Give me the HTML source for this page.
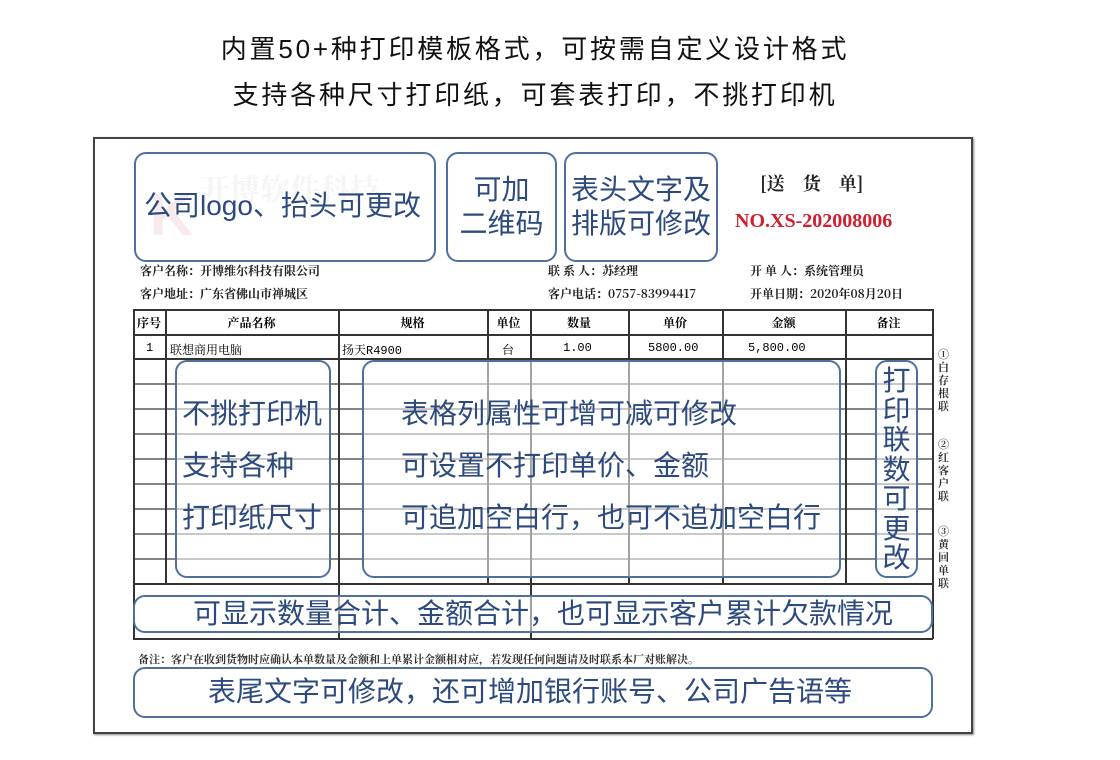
<!DOCTYPE html>
<html><head><meta charset="utf-8"><style>
body{margin:0;width:1120px;height:760px;background:#fff;position:relative;overflow:hidden;font-family:"Liberation Sans","Noto Sans CJK SC",sans-serif}
.a{position:absolute}
.t{left:0;width:1070px;text-align:center;font-size:26px;letter-spacing:2.8px;color:#111}
.paper{left:93px;top:137px;width:880px;height:597px;border:2px solid #444;box-sizing:border-box;box-shadow:1px 1px 2px #888}
.box{position:absolute;border:2px solid #4f6f9f;border-radius:12px;box-sizing:border-box;color:#2c4a7e;font-size:28px;background:rgba(255,255,255,0.55);white-space:nowrap}
.sm{font-family:"Noto Serif CJK SC",serif;font-size:12px;color:#222;font-weight:bold}
.hl{position:absolute;height:1.5px;background:#333}
.vl{position:absolute;width:1.5px;background:#333}
.th{position:absolute;top:314px;font-family:"Noto Serif CJK SC",serif;font-size:12px;font-weight:bold;text-align:center}
.td{position:absolute;top:341px;font-family:"Liberation Mono","Noto Serif CJK SC",monospace;font-size:12px}
</style></head><body>
<div class="a t" style="top:29px">内置50+种打印模板格式，可按需自定义设计格式</div>
<div class="a t" style="top:75px">支持各种尺寸打印纸，可套表打印，不挑打印机</div>
<div class="a paper"></div>
<div class="a" style="left:200px;top:165px;font-size:30px;color:#e8e8e8;font-weight:bold;font-family:'Noto Serif CJK SC',serif">开博软件科技</div>
<div class="a" style="left:150px;top:180px;font-size:60px;color:#f0d0d4;font-weight:bold">K</div>
<div class="a" style="left:760px;top:170px;font-family:'Noto Serif CJK SC',serif;font-size:18px;font-weight:bold;color:#222">[送　货　单]</div>
<div class="a" style="left:735px;top:210px;font-family:'Liberation Serif',serif;font-size:20px;font-weight:bold;color:#d02030">NO.XS-202008006</div>
<div class="a sm" style="left:140px;top:262px">客户名称：开博维尔科技有限公司</div>
<div class="a sm" style="left:140px;top:285px">客户地址：广东省佛山市禅城区</div>
<div class="a sm" style="left:548px;top:262px">联 系 人：苏经理</div>
<div class="a sm" style="left:548px;top:285px">客户电话：0757-83994417</div>
<div class="a sm" style="left:750px;top:262px">开 单 人：系统管理员</div>
<div class="a sm" style="left:750px;top:285px">开单日期：2020年08月20日</div>
<!-- table -->
<div class="hl" style="left:133px;top:309px;width:800px"></div>
<div class="hl" style="left:133px;top:334px;width:800px"></div>
<div class="hl" style="left:133px;top:358px;width:800px"></div>
<div class="hl" style="left:133px;top:383px;width:800px;opacity:.6"></div>
<div class="hl" style="left:133px;top:408px;width:800px;opacity:.6"></div>
<div class="hl" style="left:133px;top:433px;width:800px;opacity:.6"></div>
<div class="hl" style="left:133px;top:458px;width:800px;opacity:.6"></div>
<div class="hl" style="left:133px;top:483px;width:800px;opacity:.6"></div>
<div class="hl" style="left:133px;top:508px;width:800px;opacity:.6"></div>
<div class="hl" style="left:133px;top:533px;width:800px;opacity:.6"></div>
<div class="hl" style="left:133px;top:558px;width:800px;opacity:.6"></div>
<div class="hl" style="left:133px;top:583px;width:800px"></div>
<div class="hl" style="left:133px;top:638px;width:800px"></div>
<div class="vl" style="left:133px;top:309px;height:330px"></div>
<div class="vl" style="left:165px;top:309px;height:274px"></div>
<div class="vl" style="left:338px;top:309px;height:330px"></div>
<div class="vl" style="left:487px;top:309px;height:274px"></div>
<div class="vl" style="left:530px;top:309px;height:330px"></div>
<div class="vl" style="left:628px;top:309px;height:274px"></div>
<div class="vl" style="left:722px;top:309px;height:274px"></div>
<div class="vl" style="left:845px;top:309px;height:274px"></div>
<div class="vl" style="left:932px;top:309px;height:330px"></div>
<div class="th" style="left:133px;width:32px">序号</div>
<div class="th" style="left:165px;width:173px">产品名称</div>
<div class="th" style="left:338px;width:149px">规格</div>
<div class="th" style="left:487px;width:43px">单位</div>
<div class="th" style="left:530px;width:98px">数量</div>
<div class="th" style="left:628px;width:94px">单价</div>
<div class="th" style="left:722px;width:123px">金额</div>
<div class="th" style="left:845px;width:87px">备注</div>
<div class="td" style="left:146px">1</div>
<div class="td" style="left:170px;font-family:'Noto Serif CJK SC',serif">联想商用电脑</div>
<div class="td" style="left:342px">扬天R4900</div>
<div class="td" style="left:502px">台</div>
<div class="td" style="left:563px">1.00</div>
<div class="td" style="left:648px">5800.00</div>
<div class="td" style="left:748px">5,800.00</div>
<div class="a" style="left:138px;top:651px;font-family:'Noto Serif CJK SC',serif;font-size:11px;font-weight:bold;color:#333">备注：客户在收到货物时应确认本单数量及金额和上单累计金额相对应，若发现任何问题请及时联系本厂对账解决。</div>
<div class="a" style="left:938px;top:348px;width:14px;font-family:'Noto Serif CJK SC',serif;font-size:11px;line-height:13px;color:#333;font-weight:bold">①白存根联</div>
<div class="a" style="left:938px;top:438px;width:14px;font-family:'Noto Serif CJK SC',serif;font-size:11px;line-height:13px;color:#333;font-weight:bold">②红客户联</div>
<div class="a" style="left:938px;top:525px;width:14px;font-family:'Noto Serif CJK SC',serif;font-size:11px;line-height:13px;color:#333;font-weight:bold">③黄回单联</div>
<!-- boxes -->
<div class="box" style="left:134px;top:152px;width:302px;height:110px;padding:30px 0 0 8px;font-size:28px">公司logo、抬头可更改</div>
<div class="box" style="left:446px;top:152px;width:111px;height:110px;text-align:center;line-height:34px;padding-top:19px">可加<br>二维码</div>
<div class="box" style="left:564px;top:152px;width:154px;height:110px;text-align:center;line-height:34px;padding-top:19px">表头文字及<br>排版可修改</div>
<div class="box" style="left:175px;top:360px;width:156px;height:218px;padding:26px 0 0 5px;line-height:52px">不挑打印机<br>支持各种<br>打印纸尺寸</div>
<div class="box" style="left:362px;top:360px;width:479px;height:218px;padding:26px 0 0 37px;line-height:52px">表格列属性可增可减可修改<br>可设置不打印单价、金额<br>可追加空白行，也可不追加空白行</div>
<div class="box" style="left:875px;top:360px;width:43px;height:218px;text-align:center;line-height:29.5px;padding-top:4px">打<br>印<br>联<br>数<br>可<br>更<br>改</div>
<div class="box" style="left:133px;top:595px;width:800px;height:38px;padding:0 0 0 58px;line-height:33px">可显示数量合计、金额合计，也可显示客户累计欠款情况</div>
<div class="box" style="left:133px;top:667px;width:800px;height:51px;padding:5px 0 0 73px;line-height:36px">表尾文字可修改，还可增加银行账号、公司广告语等</div>
</body></html>
